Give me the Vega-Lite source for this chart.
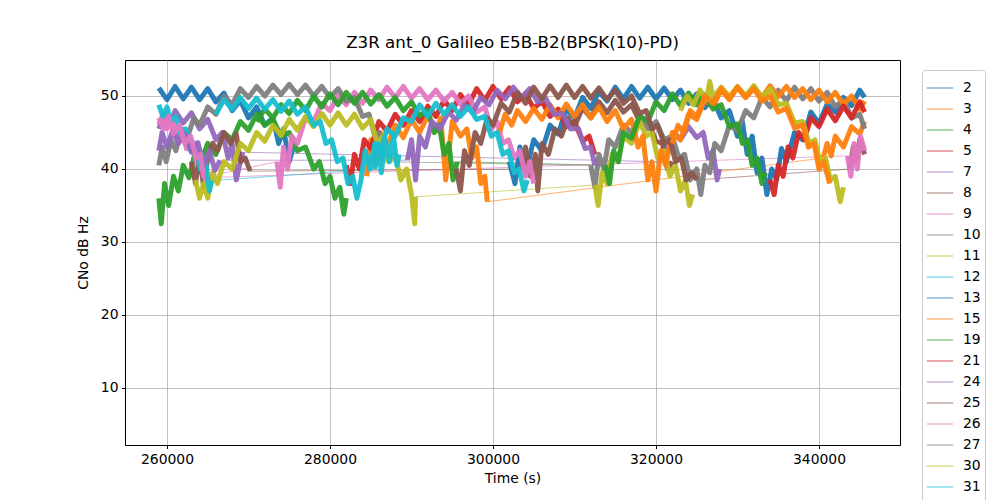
{
  "$schema": "https://vega.github.io/schema/vega-lite/v6.json",
  "width": 775,
  "height": 385,
  "autosize": {"type": "none"},
  "padding": {"left": 125, "top": 60, "right": 100, "bottom": 55},
  "background": "white",
  "title": {"text": "Z3R ant_0 Galileo E5B-B2(BPSK(10)-PD)", "font": "DejaVu Sans", "fontSize": 16.7, "fontWeight": "normal", "color": "black", "anchor": "middle", "frame": "group", "offset": 8},
  "config": {
    "view": {"stroke": "black", "strokeWidth": 1},
    "axis": {"labelFont": "DejaVu Sans", "labelFontSize": 13.9, "labelColor": "black", "titleFont": "DejaVu Sans", "titleFontSize": 13.9, "titleFontWeight": "normal", "titleColor": "black", "gridColor": "#b0b0b0", "gridWidth": 0.8, "domainColor": "black", "tickColor": "black", "tickSize": 3.5, "labelPadding": 3.5},
    "legend": {"orient": "none", "legendX": 797, "legendY": 10, "labelFont": "DejaVu Sans", "labelFontSize": 13.9, "labelColor": "black", "symbolType": "stroke", "symbolSize": 700, "symbolStrokeWidth": 1.2, "symbolOpacity": 0.65, "strokeColor": "#cccccc", "fillColor": "white", "cornerRadius": 3, "padding": 4, "rowPadding": 0, "labelOffset": 9}
  },
  "datasets": {
    "links": [
      {"s":"3","t":299300,"c":35.5,"t2":340500,"c2":41.5},
      {"s":"19","t":295600,"c":41.0,"t2":313800,"c2":40.5},
      {"s":"7","t":269300,"c":42.3,"t2":320500,"c2":41.0},
      {"s":"24","t":266500,"c":41.2,"t2":289500,"c2":41.2},
      {"s":"8","t":270200,"c":39.7,"t2":303500,"c2":40.0},
      {"s":"25","t":325000,"c":38.5,"t2":343800,"c2":40.0},
      {"s":"9","t":265000,"c":39.0,"t2":273500,"c2":41.0},
      {"s":"26","t":264500,"c":38.8,"t2":343500,"c2":41.8},
      {"s":"10","t":286500,"c":41.0,"t2":312000,"c2":40.5},
      {"s":"11","t":290500,"c":36.2,"t2":312500,"c2":37.8},
      {"s":"12","t":265500,"c":38.4,"t2":285500,"c2":40.0}
    ],
    "passes": [
      {"s":"2","p":1,"t":259000,"c":51.1},{"s":"2","p":1,"t":260000,"c":49.5},{"s":"2","p":1,"t":261000,"c":51.3},{"s":"2","p":1,"t":262000,"c":49.6},{"s":"2","p":1,"t":263000,"c":51.2},{"s":"2","p":1,"t":264000,"c":49.5},{"s":"2","p":1,"t":265000,"c":51.0},{"s":"2","p":1,"t":266000,"c":49.2},{"s":"2","p":1,"t":267000,"c":50.4},{"s":"2","p":1,"t":268000,"c":48.0},{"s":"2","p":1,"t":269000,"c":49.4},{"s":"2","p":1,"t":270000,"c":47.0},{"s":"2","p":1,"t":271000,"c":48.5},{"s":"2","p":1,"t":272000,"c":46.0},{"s":"2","p":1,"t":273000,"c":47.0},{"s":"2","p":1,"t":273700,"c":43.5},{"s":"2","p":1,"t":274300,"c":45.5},{"s":"2","p":1,"t":275000,"c":41.0},{"s":"2","p":1,"t":275500,"c":43.0},
      {"s":"2","p":2,"t":302000,"c":41.0},{"s":"2","p":2,"t":302700,"c":38.0},{"s":"2","p":2,"t":303300,"c":43.0},{"s":"2","p":2,"t":304000,"c":39.5},{"s":"2","p":2,"t":305000,"c":44.0},{"s":"2","p":2,"t":306000,"c":42.5},{"s":"2","p":2,"t":307000,"c":46.0},{"s":"2","p":2,"t":308000,"c":44.8},{"s":"2","p":2,"t":309000,"c":48.2},{"s":"2","p":2,"t":310000,"c":47.0},{"s":"2","p":2,"t":311000,"c":49.8},{"s":"2","p":2,"t":312000,"c":48.3},{"s":"2","p":2,"t":313000,"c":50.6},{"s":"2","p":2,"t":314000,"c":49.3},{"s":"2","p":2,"t":315000,"c":51.2},{"s":"2","p":2,"t":316000,"c":49.6},{"s":"2","p":2,"t":317000,"c":51.3},{"s":"2","p":2,"t":318000,"c":49.7},{"s":"2","p":2,"t":319000,"c":51.2},{"s":"2","p":2,"t":320000,"c":49.6},{"s":"2","p":2,"t":321000,"c":51.1},{"s":"2","p":2,"t":322000,"c":49.5},{"s":"2","p":2,"t":323000,"c":50.8},{"s":"2","p":2,"t":324000,"c":49.0},{"s":"2","p":2,"t":325000,"c":50.3},{"s":"2","p":2,"t":326000,"c":48.4},{"s":"2","p":2,"t":327000,"c":49.6},{"s":"2","p":2,"t":328000,"c":47.0},{"s":"2","p":2,"t":329000,"c":48.0},{"s":"2","p":2,"t":330000,"c":44.5},{"s":"2","p":2,"t":330600,"c":46.5},{"s":"2","p":2,"t":331200,"c":42.0},{"s":"2","p":2,"t":331800,"c":44.5},{"s":"2","p":2,"t":332400,"c":39.5},{"s":"2","p":2,"t":333000,"c":41.5},{"s":"2","p":2,"t":333600,"c":36.5},{"s":"2","p":2,"t":334200,"c":40.0},{"s":"2","p":2,"t":334800,"c":38.5},{"s":"2","p":2,"t":335400,"c":42.8},{"s":"2","p":2,"t":336000,"c":41.0},{"s":"2","p":2,"t":337000,"c":45.0},{"s":"2","p":2,"t":338000,"c":44.0},{"s":"2","p":2,"t":339000,"c":47.8},{"s":"2","p":2,"t":340000,"c":46.2},{"s":"2","p":2,"t":341000,"c":48.9},{"s":"2","p":2,"t":342000,"c":47.8},{"s":"2","p":2,"t":343000,"c":49.8},{"s":"2","p":2,"t":344000,"c":48.7},{"s":"2","p":2,"t":345000,"c":50.8},{"s":"2","p":2,"t":345600,"c":49.8},
      {"s":"3","p":1,"t":284500,"c":39.0},{"s":"3","p":1,"t":285000,"c":44.0},{"s":"3","p":1,"t":285600,"c":40.5},{"s":"3","p":1,"t":286200,"c":45.0},{"s":"3","p":1,"t":287000,"c":43.0},{"s":"3","p":1,"t":288000,"c":46.0},{"s":"3","p":1,"t":289000,"c":44.3},{"s":"3","p":1,"t":290000,"c":46.8},{"s":"3","p":1,"t":291000,"c":45.0},{"s":"3","p":1,"t":292000,"c":47.3},{"s":"3","p":1,"t":293000,"c":45.2},{"s":"3","p":1,"t":293600,"c":47.0},{"s":"3","p":1,"t":294200,"c":38.5},{"s":"3","p":1,"t":295000,"c":46.5},{"s":"3","p":1,"t":296000,"c":44.5},{"s":"3","p":1,"t":296800,"c":45.5},{"s":"3","p":1,"t":297400,"c":41.5},{"s":"3","p":1,"t":298000,"c":43.0},{"s":"3","p":1,"t":298500,"c":38.0},{"s":"3","p":1,"t":299000,"c":39.0},{"s":"3","p":1,"t":299300,"c":35.5},
      {"s":"3","p":2,"t":340500,"c":41.5},{"s":"3","p":2,"t":341000,"c":43.5},{"s":"3","p":2,"t":341500,"c":41.8},{"s":"3","p":2,"t":342000,"c":44.5},{"s":"3","p":2,"t":343000,"c":43.0},{"s":"3","p":2,"t":344000,"c":45.8},{"s":"3","p":2,"t":345000,"c":44.8},{"s":"3","p":2,"t":345600,"c":46.5},
      {"s":"4","p":1,"t":259000,"c":36.0},{"s":"4","p":1,"t":259300,"c":32.5},{"s":"4","p":1,"t":259700,"c":38.0},{"s":"4","p":1,"t":260200,"c":35.0},{"s":"4","p":1,"t":260800,"c":39.0},{"s":"4","p":1,"t":261400,"c":37.0},{"s":"4","p":1,"t":262000,"c":40.5},{"s":"4","p":1,"t":262700,"c":38.8},{"s":"4","p":1,"t":263400,"c":42.0},{"s":"4","p":1,"t":264000,"c":40.5},{"s":"4","p":1,"t":265000,"c":43.5},{"s":"4","p":1,"t":266000,"c":42.0},{"s":"4","p":1,"t":267000,"c":45.0},{"s":"4","p":1,"t":268000,"c":44.0},{"s":"4","p":1,"t":269000,"c":46.5},{"s":"4","p":1,"t":270000,"c":45.3},{"s":"4","p":1,"t":271000,"c":47.5},{"s":"4","p":1,"t":272000,"c":46.0},{"s":"4","p":1,"t":273000,"c":46.8},{"s":"4","p":1,"t":274000,"c":44.5},{"s":"4","p":1,"t":275000,"c":45.0},{"s":"4","p":1,"t":276000,"c":42.5},{"s":"4","p":1,"t":277000,"c":43.0},{"s":"4","p":1,"t":278000,"c":40.0},{"s":"4","p":1,"t":278700,"c":41.0},{"s":"4","p":1,"t":279400,"c":38.0},{"s":"4","p":1,"t":280000,"c":39.0},{"s":"4","p":1,"t":280600,"c":36.0},{"s":"4","p":1,"t":281200,"c":37.5},{"s":"4","p":1,"t":281700,"c":33.8},{"s":"4","p":1,"t":282000,"c":36.0},
      {"s":"5","p":1,"t":282000,"c":40.5},{"s":"5","p":1,"t":282500,"c":38.0},{"s":"5","p":1,"t":283000,"c":42.0},{"s":"5","p":1,"t":283600,"c":40.0},{"s":"5","p":1,"t":284200,"c":44.0},{"s":"5","p":1,"t":285000,"c":42.8},{"s":"5","p":1,"t":286000,"c":46.5},{"s":"5","p":1,"t":287000,"c":45.2},{"s":"5","p":1,"t":288000,"c":47.5},{"s":"5","p":1,"t":289000,"c":46.0},{"s":"5","p":1,"t":290000,"c":48.0},{"s":"5","p":1,"t":291000,"c":46.5},{"s":"5","p":1,"t":292000,"c":48.6},{"s":"5","p":1,"t":293000,"c":47.2},{"s":"5","p":1,"t":294000,"c":49.4},{"s":"5","p":1,"t":295000,"c":48.0},{"s":"5","p":1,"t":296000,"c":50.2},{"s":"5","p":1,"t":297000,"c":48.8},{"s":"5","p":1,"t":298000,"c":51.0},{"s":"5","p":1,"t":299000,"c":49.4},{"s":"5","p":1,"t":300000,"c":51.3},{"s":"5","p":1,"t":301000,"c":49.6},{"s":"5","p":1,"t":302000,"c":51.1},{"s":"5","p":1,"t":303000,"c":49.2},{"s":"5","p":1,"t":304000,"c":50.3},{"s":"5","p":1,"t":305000,"c":48.3},{"s":"5","p":1,"t":306000,"c":49.3},{"s":"5","p":1,"t":307000,"c":47.2},{"s":"5","p":1,"t":308000,"c":48.2},{"s":"5","p":1,"t":309000,"c":45.8},{"s":"5","p":1,"t":310000,"c":46.5},{"s":"5","p":1,"t":311000,"c":43.8},{"s":"5","p":1,"t":311800,"c":44.5},{"s":"5","p":1,"t":312500,"c":42.0},
      {"s":"7","p":1,"t":259000,"c":45.5},{"s":"7","p":1,"t":259700,"c":47.5},{"s":"7","p":1,"t":260400,"c":46.0},{"s":"7","p":1,"t":261000,"c":48.0},{"s":"7","p":1,"t":262000,"c":46.3},{"s":"7","p":1,"t":263000,"c":47.7},{"s":"7","p":1,"t":264000,"c":45.5},{"s":"7","p":1,"t":265000,"c":46.8},{"s":"7","p":1,"t":266000,"c":44.0},{"s":"7","p":1,"t":266800,"c":45.0},{"s":"7","p":1,"t":267500,"c":41.5},{"s":"7","p":1,"t":268000,"c":43.5},{"s":"7","p":1,"t":268500,"c":38.5},{"s":"7","p":1,"t":269000,"c":41.0},{"s":"7","p":1,"t":269300,"c":42.3},
      {"s":"7","p":2,"t":320500,"c":41.0},{"s":"7","p":2,"t":321000,"c":43.5},{"s":"7","p":2,"t":321600,"c":42.5},{"s":"7","p":2,"t":322200,"c":45.0},{"s":"7","p":2,"t":323000,"c":44.0},{"s":"7","p":2,"t":324000,"c":45.8},{"s":"7","p":2,"t":325000,"c":44.3},{"s":"7","p":2,"t":325800,"c":45.0},{"s":"7","p":2,"t":326400,"c":41.5},{"s":"7","p":2,"t":327000,"c":42.5},{"s":"7","p":2,"t":327500,"c":38.5},{"s":"7","p":2,"t":327800,"c":40.0},
      {"s":"8","p":1,"t":263000,"c":41.0},{"s":"8","p":1,"t":263500,"c":38.0},{"s":"8","p":1,"t":264000,"c":42.0},{"s":"8","p":1,"t":264500,"c":37.5},{"s":"8","p":1,"t":265000,"c":41.5},{"s":"8","p":1,"t":265600,"c":43.5},{"s":"8","p":1,"t":266200,"c":42.5},{"s":"8","p":1,"t":267000,"c":45.0},{"s":"8","p":1,"t":267800,"c":43.5},{"s":"8","p":1,"t":268500,"c":44.8},{"s":"8","p":1,"t":269000,"c":41.0},{"s":"8","p":1,"t":269600,"c":41.5},{"s":"8","p":1,"t":270200,"c":39.7},
      {"s":"8","p":2,"t":303500,"c":40.0},{"s":"8","p":2,"t":304000,"c":43.0},{"s":"8","p":2,"t":304600,"c":39.0},{"s":"8","p":2,"t":305200,"c":42.0},{"s":"8","p":2,"t":305500,"c":37.0},{"s":"8","p":2,"t":306000,"c":43.5},{"s":"8","p":2,"t":306800,"c":42.0},{"s":"8","p":2,"t":307600,"c":45.5},{"s":"8","p":2,"t":308400,"c":44.5},{"s":"8","p":2,"t":309200,"c":47.0},{"s":"8","p":2,"t":310000,"c":45.8},{"s":"8","p":2,"t":311000,"c":48.4},{"s":"8","p":2,"t":312000,"c":47.0},{"s":"8","p":2,"t":313000,"c":49.2},{"s":"8","p":2,"t":314000,"c":47.7},{"s":"8","p":2,"t":315000,"c":49.4},{"s":"8","p":2,"t":316000,"c":47.8},{"s":"8","p":2,"t":317000,"c":48.8},{"s":"8","p":2,"t":318000,"c":46.5},{"s":"8","p":2,"t":319000,"c":46.8},{"s":"8","p":2,"t":320000,"c":43.8},{"s":"8","p":2,"t":320800,"c":43.5},{"s":"8","p":2,"t":321400,"c":40.0},{"s":"8","p":2,"t":322000,"c":41.0},
      {"s":"9","p":1,"t":259000,"c":46.0},{"s":"9","p":1,"t":259500,"c":47.5},{"s":"9","p":1,"t":260000,"c":45.5},{"s":"9","p":1,"t":260600,"c":46.8},{"s":"9","p":1,"t":261200,"c":44.3},{"s":"9","p":1,"t":261800,"c":45.5},{"s":"9","p":1,"t":262400,"c":42.8},{"s":"9","p":1,"t":263000,"c":44.0},{"s":"9","p":1,"t":263600,"c":41.0},{"s":"9","p":1,"t":264200,"c":42.0},{"s":"9","p":1,"t":264700,"c":38.5},{"s":"9","p":1,"t":265000,"c":39.0},
      {"s":"9","p":2,"t":273500,"c":41.0},{"s":"9","p":2,"t":273900,"c":37.5},{"s":"9","p":2,"t":274300,"c":43.0},{"s":"9","p":2,"t":274800,"c":40.0},{"s":"9","p":2,"t":275300,"c":44.5},{"s":"9","p":2,"t":276000,"c":43.5},{"s":"9","p":2,"t":277000,"c":47.0},{"s":"9","p":2,"t":278000,"c":46.5},{"s":"9","p":2,"t":279000,"c":49.0},{"s":"9","p":2,"t":280000,"c":48.0},{"s":"9","p":2,"t":281000,"c":50.0},{"s":"9","p":2,"t":282000,"c":48.8},{"s":"9","p":2,"t":283000,"c":50.5},{"s":"9","p":2,"t":284000,"c":49.0},{"s":"9","p":2,"t":285000,"c":50.8},{"s":"9","p":2,"t":286000,"c":49.5},{"s":"9","p":2,"t":287000,"c":51.2},{"s":"9","p":2,"t":288000,"c":49.8},{"s":"9","p":2,"t":289000,"c":51.3},{"s":"9","p":2,"t":290000,"c":49.7},{"s":"9","p":2,"t":291000,"c":51.0},{"s":"9","p":2,"t":292000,"c":49.5},{"s":"9","p":2,"t":293000,"c":50.8},{"s":"9","p":2,"t":294000,"c":49.3},{"s":"9","p":2,"t":295000,"c":50.5},{"s":"9","p":2,"t":296000,"c":48.9},{"s":"9","p":2,"t":297000,"c":50.0},{"s":"9","p":2,"t":298000,"c":47.8},{"s":"9","p":2,"t":299000,"c":48.5},{"s":"9","p":2,"t":299800,"c":45.5},{"s":"9","p":2,"t":300500,"c":46.5},{"s":"9","p":2,"t":301200,"c":43.5},{"s":"9","p":2,"t":301900,"c":44.0},{"s":"9","p":2,"t":302600,"c":41.5},{"s":"9","p":2,"t":303300,"c":42.5},{"s":"9","p":2,"t":304000,"c":39.0},{"s":"9","p":2,"t":304500,"c":41.0},{"s":"9","p":2,"t":305000,"c":38.0},
      {"s":"10","p":1,"t":259000,"c":40.5},{"s":"10","p":1,"t":259400,"c":43.0},{"s":"10","p":1,"t":259900,"c":41.0},{"s":"10","p":1,"t":260500,"c":44.0},{"s":"10","p":1,"t":261100,"c":42.5},{"s":"10","p":1,"t":261800,"c":45.5},{"s":"10","p":1,"t":262500,"c":44.3},{"s":"10","p":1,"t":263300,"c":47.0},{"s":"10","p":1,"t":264000,"c":46.0},{"s":"10","p":1,"t":265000,"c":48.5},{"s":"10","p":1,"t":266000,"c":47.5},{"s":"10","p":1,"t":267000,"c":50.0},{"s":"10","p":1,"t":268000,"c":48.8},{"s":"10","p":1,"t":269000,"c":51.0},{"s":"10","p":1,"t":270000,"c":49.8},{"s":"10","p":1,"t":271000,"c":51.3},{"s":"10","p":1,"t":272000,"c":50.0},{"s":"10","p":1,"t":273000,"c":51.5},{"s":"10","p":1,"t":274000,"c":50.2},{"s":"10","p":1,"t":275000,"c":51.6},{"s":"10","p":1,"t":276000,"c":50.2},{"s":"10","p":1,"t":277000,"c":51.5},{"s":"10","p":1,"t":278000,"c":50.0},{"s":"10","p":1,"t":279000,"c":51.3},{"s":"10","p":1,"t":280000,"c":49.8},{"s":"10","p":1,"t":281000,"c":51.0},{"s":"10","p":1,"t":282000,"c":49.3},{"s":"10","p":1,"t":283000,"c":49.8},{"s":"10","p":1,"t":284000,"c":47.2},{"s":"10","p":1,"t":284800,"c":47.5},{"s":"10","p":1,"t":285500,"c":44.5},{"s":"10","p":1,"t":286000,"c":45.0},{"s":"10","p":1,"t":286500,"c":41.0},
      {"s":"10","p":2,"t":312000,"c":40.5},{"s":"10","p":2,"t":312500,"c":37.5},{"s":"10","p":2,"t":313000,"c":42.0},{"s":"10","p":2,"t":313600,"c":40.0},{"s":"10","p":2,"t":314200,"c":44.0},{"s":"10","p":2,"t":315000,"c":43.0},{"s":"10","p":2,"t":316000,"c":46.0},{"s":"10","p":2,"t":317000,"c":45.0},{"s":"10","p":2,"t":318000,"c":47.0},{"s":"10","p":2,"t":319000,"c":45.5},{"s":"10","p":2,"t":320000,"c":46.5},{"s":"10","p":2,"t":321000,"c":44.0},{"s":"10","p":2,"t":322000,"c":44.5},{"s":"10","p":2,"t":322800,"c":41.5},{"s":"10","p":2,"t":323500,"c":42.0},{"s":"10","p":2,"t":324200,"c":38.5},{"s":"10","p":2,"t":325000,"c":40.0},{"s":"10","p":2,"t":325500,"c":36.5},{"s":"10","p":2,"t":326000,"c":40.5},{"s":"10","p":2,"t":326600,"c":39.5},{"s":"10","p":2,"t":327200,"c":43.5},{"s":"10","p":2,"t":328000,"c":42.5},{"s":"10","p":2,"t":329000,"c":46.0},{"s":"10","p":2,"t":330000,"c":45.2},{"s":"10","p":2,"t":331000,"c":48.0},{"s":"10","p":2,"t":332000,"c":47.0},{"s":"10","p":2,"t":333000,"c":49.8},{"s":"10","p":2,"t":334000,"c":48.5},{"s":"10","p":2,"t":335000,"c":50.8},{"s":"10","p":2,"t":336000,"c":49.3},{"s":"10","p":2,"t":337000,"c":51.2},{"s":"10","p":2,"t":338000,"c":49.6},{"s":"10","p":2,"t":339000,"c":51.0},{"s":"10","p":2,"t":340000,"c":49.3},{"s":"10","p":2,"t":341000,"c":50.5},{"s":"10","p":2,"t":342000,"c":48.5},{"s":"10","p":2,"t":343000,"c":49.5},{"s":"10","p":2,"t":344000,"c":47.0},{"s":"10","p":2,"t":345000,"c":47.5},{"s":"10","p":2,"t":345600,"c":45.5},
      {"s":"11","p":1,"t":263500,"c":38.5},{"s":"11","p":1,"t":264000,"c":36.0},{"s":"11","p":1,"t":264500,"c":38.0},{"s":"11","p":1,"t":265000,"c":36.0},{"s":"11","p":1,"t":265600,"c":39.5},{"s":"11","p":1,"t":266200,"c":38.0},{"s":"11","p":1,"t":267000,"c":41.0},{"s":"11","p":1,"t":268000,"c":40.0},{"s":"11","p":1,"t":269000,"c":43.5},{"s":"11","p":1,"t":270000,"c":42.5},{"s":"11","p":1,"t":271000,"c":45.0},{"s":"11","p":1,"t":272000,"c":43.8},{"s":"11","p":1,"t":273000,"c":46.0},{"s":"11","p":1,"t":274000,"c":44.6},{"s":"11","p":1,"t":275000,"c":46.8},{"s":"11","p":1,"t":276000,"c":45.3},{"s":"11","p":1,"t":277000,"c":47.2},{"s":"11","p":1,"t":278000,"c":45.8},{"s":"11","p":1,"t":279000,"c":47.6},{"s":"11","p":1,"t":280000,"c":46.0},{"s":"11","p":1,"t":281000,"c":47.7},{"s":"11","p":1,"t":282000,"c":46.0},{"s":"11","p":1,"t":283000,"c":47.5},{"s":"11","p":1,"t":284000,"c":45.6},{"s":"11","p":1,"t":285000,"c":46.8},{"s":"11","p":1,"t":285800,"c":43.5},{"s":"11","p":1,"t":286500,"c":44.5},{"s":"11","p":1,"t":287200,"c":41.0},{"s":"11","p":1,"t":288000,"c":42.0},{"s":"11","p":1,"t":288700,"c":38.5},{"s":"11","p":1,"t":289400,"c":40.0},{"s":"11","p":1,"t":290000,"c":36.5},{"s":"11","p":1,"t":290400,"c":32.5},{"s":"11","p":1,"t":290500,"c":36.2},
      {"s":"11","p":2,"t":312500,"c":37.8},{"s":"11","p":2,"t":312900,"c":35.0},{"s":"11","p":2,"t":313400,"c":39.5},{"s":"11","p":2,"t":314000,"c":38.0},{"s":"11","p":2,"t":314600,"c":42.0},{"s":"11","p":2,"t":315300,"c":41.0},{"s":"11","p":2,"t":316000,"c":44.5},{"s":"11","p":2,"t":317000,"c":43.5},{"s":"11","p":2,"t":318000,"c":46.5},{"s":"11","p":2,"t":318800,"c":44.5},{"s":"11","p":2,"t":319500,"c":45.0},{"s":"11","p":2,"t":320200,"c":41.5},{"s":"11","p":2,"t":321000,"c":42.5},{"s":"11","p":2,"t":321700,"c":39.0},{"s":"11","p":2,"t":322400,"c":40.5},{"s":"11","p":2,"t":323000,"c":37.0},{"s":"11","p":2,"t":323600,"c":38.5},{"s":"11","p":2,"t":324100,"c":35.0},{"s":"11","p":2,"t":324500,"c":36.5},
      {"s":"12","p":1,"t":259000,"c":48.8},{"s":"12","p":1,"t":259500,"c":47.2},{"s":"12","p":1,"t":260000,"c":48.5},{"s":"12","p":1,"t":260500,"c":46.5},{"s":"12","p":1,"t":261100,"c":47.2},{"s":"12","p":1,"t":261700,"c":44.8},{"s":"12","p":1,"t":262300,"c":45.5},{"s":"12","p":1,"t":262900,"c":42.5},{"s":"12","p":1,"t":263500,"c":43.5},{"s":"12","p":1,"t":264100,"c":40.0},{"s":"12","p":1,"t":264700,"c":41.5},{"s":"12","p":1,"t":265200,"c":37.0},{"s":"12","p":1,"t":265500,"c":38.4},
      {"s":"12","p":2,"t":285500,"c":40.0},{"s":"12","p":2,"t":285900,"c":43.5},{"s":"12","p":2,"t":286300,"c":39.5},{"s":"12","p":2,"t":286800,"c":44.0},{"s":"12","p":2,"t":287300,"c":41.0},{"s":"12","p":2,"t":287800,"c":44.5},{"s":"12","p":2,"t":288200,"c":40.5},{"s":"12","p":2,"t":288500,"c":42.0},
      {"s":"15","p":1,"t":300800,"c":45.0},{"s":"15","p":1,"t":301500,"c":47.5},{"s":"15","p":1,"t":302300,"c":46.0},{"s":"15","p":1,"t":303000,"c":48.0},{"s":"15","p":1,"t":304000,"c":46.5},{"s":"15","p":1,"t":305000,"c":48.3},{"s":"15","p":1,"t":306000,"c":46.8},{"s":"15","p":1,"t":307000,"c":48.8},{"s":"15","p":1,"t":308000,"c":47.0},{"s":"15","p":1,"t":309000,"c":48.9},{"s":"15","p":1,"t":310000,"c":47.2},{"s":"15","p":1,"t":311000,"c":48.8},{"s":"15","p":1,"t":312000,"c":47.0},{"s":"15","p":1,"t":313000,"c":48.5},{"s":"15","p":1,"t":314000,"c":46.5},{"s":"15","p":1,"t":315000,"c":48.0},{"s":"15","p":1,"t":316000,"c":45.5},{"s":"15","p":1,"t":317000,"c":46.8},{"s":"15","p":1,"t":317800,"c":43.0},{"s":"15","p":1,"t":318400,"c":44.5},{"s":"15","p":1,"t":319000,"c":38.5},{"s":"15","p":1,"t":319500,"c":41.0},{"s":"15","p":1,"t":320000,"c":37.0},{"s":"15","p":1,"t":320600,"c":42.5},{"s":"15","p":1,"t":321200,"c":40.5},{"s":"15","p":1,"t":322000,"c":45.0},{"s":"15","p":1,"t":323000,"c":44.0},{"s":"15","p":1,"t":324000,"c":47.5},{"s":"15","p":1,"t":325000,"c":46.8},{"s":"15","p":1,"t":326000,"c":49.5},{"s":"15","p":1,"t":327000,"c":48.5},{"s":"15","p":1,"t":328000,"c":50.9},{"s":"15","p":1,"t":329000,"c":49.5},{"s":"15","p":1,"t":330000,"c":51.2},{"s":"15","p":1,"t":331000,"c":49.8},{"s":"15","p":1,"t":332000,"c":51.3},{"s":"15","p":1,"t":333000,"c":49.8},{"s":"15","p":1,"t":334000,"c":51.4},{"s":"15","p":1,"t":335000,"c":49.9},{"s":"15","p":1,"t":336000,"c":51.3},{"s":"15","p":1,"t":337000,"c":49.8},{"s":"15","p":1,"t":338000,"c":51.0},{"s":"15","p":1,"t":339000,"c":49.5},{"s":"15","p":1,"t":340000,"c":50.8},{"s":"15","p":1,"t":341000,"c":49.2},{"s":"15","p":1,"t":342000,"c":50.5},{"s":"15","p":1,"t":343000,"c":48.8},{"s":"15","p":1,"t":344000,"c":50.0},{"s":"15","p":1,"t":345000,"c":48.2},{"s":"15","p":1,"t":345600,"c":49.3},
      {"s":"19","p":1,"t":271000,"c":46.5},{"s":"19","p":1,"t":272000,"c":48.2},{"s":"19","p":1,"t":273000,"c":47.0},{"s":"19","p":1,"t":274000,"c":48.8},{"s":"19","p":1,"t":275000,"c":47.6},{"s":"19","p":1,"t":276000,"c":49.4},{"s":"19","p":1,"t":277000,"c":48.0},{"s":"19","p":1,"t":278000,"c":50.0},{"s":"19","p":1,"t":279000,"c":48.5},{"s":"19","p":1,"t":280000,"c":50.3},{"s":"19","p":1,"t":281000,"c":48.8},{"s":"19","p":1,"t":282000,"c":50.5},{"s":"19","p":1,"t":283000,"c":49.0},{"s":"19","p":1,"t":284000,"c":50.5},{"s":"19","p":1,"t":285000,"c":48.9},{"s":"19","p":1,"t":286000,"c":50.2},{"s":"19","p":1,"t":287000,"c":48.6},{"s":"19","p":1,"t":288000,"c":49.8},{"s":"19","p":1,"t":289000,"c":48.0},{"s":"19","p":1,"t":290000,"c":49.2},{"s":"19","p":1,"t":291000,"c":47.3},{"s":"19","p":1,"t":292000,"c":48.0},{"s":"19","p":1,"t":292800,"c":45.0},{"s":"19","p":1,"t":293400,"c":46.0},{"s":"19","p":1,"t":294000,"c":42.0},{"s":"19","p":1,"t":294600,"c":43.5},{"s":"19","p":1,"t":295100,"c":38.5},{"s":"19","p":1,"t":295600,"c":41.0},
      {"s":"19","p":2,"t":313800,"c":40.5},{"s":"19","p":2,"t":314300,"c":38.0},{"s":"19","p":2,"t":314800,"c":42.5},{"s":"19","p":2,"t":315400,"c":41.0},{"s":"19","p":2,"t":316000,"c":45.0},{"s":"19","p":2,"t":317000,"c":44.2},{"s":"19","p":2,"t":318000,"c":47.3},{"s":"19","p":2,"t":319000,"c":46.5},{"s":"19","p":2,"t":320000,"c":49.2},{"s":"19","p":2,"t":321000,"c":48.0},{"s":"19","p":2,"t":322000,"c":50.3},{"s":"19","p":2,"t":323000,"c":48.7},{"s":"19","p":2,"t":324000,"c":50.4},{"s":"19","p":2,"t":325000,"c":48.8},{"s":"19","p":2,"t":326000,"c":50.2},{"s":"19","p":2,"t":327000,"c":48.2},{"s":"19","p":2,"t":328000,"c":48.8},{"s":"19","p":2,"t":329000,"c":45.8},{"s":"19","p":2,"t":330000,"c":46.2},{"s":"19","p":2,"t":330600,"c":43.5},{"s":"19","p":2,"t":331200,"c":44.0},{"s":"19","p":2,"t":331800,"c":40.5},{"s":"19","p":2,"t":332400,"c":41.5},{"s":"19","p":2,"t":333000,"c":38.0},{"s":"19","p":2,"t":333400,"c":39.5},
      {"s":"21","p":1,"t":334000,"c":38.5},{"s":"21","p":1,"t":334500,"c":36.5},{"s":"21","p":1,"t":335000,"c":40.5},{"s":"21","p":1,"t":335600,"c":39.0},{"s":"21","p":1,"t":336200,"c":43.0},{"s":"21","p":1,"t":336800,"c":41.5},{"s":"21","p":1,"t":337500,"c":45.0},{"s":"21","p":1,"t":338200,"c":44.0},{"s":"21","p":1,"t":339000,"c":47.0},{"s":"21","p":1,"t":340000,"c":45.8},{"s":"21","p":1,"t":341000,"c":48.2},{"s":"21","p":1,"t":342000,"c":46.6},{"s":"21","p":1,"t":343000,"c":48.6},{"s":"21","p":1,"t":344000,"c":47.0},{"s":"21","p":1,"t":345000,"c":49.2},{"s":"21","p":1,"t":345600,"c":47.8},
      {"s":"24","p":1,"t":259000,"c":42.5},{"s":"24","p":1,"t":259400,"c":45.0},{"s":"24","p":1,"t":260000,"c":43.0},{"s":"24","p":1,"t":260700,"c":45.3},{"s":"24","p":1,"t":261400,"c":43.5},{"s":"24","p":1,"t":262200,"c":44.8},{"s":"24","p":1,"t":263000,"c":42.3},{"s":"24","p":1,"t":263800,"c":43.6},{"s":"24","p":1,"t":264500,"c":40.5},{"s":"24","p":1,"t":265200,"c":42.5},{"s":"24","p":1,"t":265900,"c":39.8},{"s":"24","p":1,"t":266500,"c":41.2},
      {"s":"24","p":2,"t":289500,"c":41.2},{"s":"24","p":2,"t":290000,"c":44.0},{"s":"24","p":2,"t":290500,"c":38.5},{"s":"24","p":2,"t":291000,"c":44.5},{"s":"24","p":2,"t":291700,"c":43.0},{"s":"24","p":2,"t":292500,"c":46.5},{"s":"24","p":2,"t":293500,"c":45.5},{"s":"24","p":2,"t":294500,"c":47.8},{"s":"24","p":2,"t":295500,"c":46.7},{"s":"24","p":2,"t":296500,"c":48.8},{"s":"24","p":2,"t":297500,"c":47.7},{"s":"24","p":2,"t":298500,"c":49.8},{"s":"24","p":2,"t":299500,"c":48.8},{"s":"24","p":2,"t":300500,"c":50.8},{"s":"24","p":2,"t":301500,"c":49.6},{"s":"24","p":2,"t":302500,"c":51.2},{"s":"24","p":2,"t":303500,"c":49.8},{"s":"24","p":2,"t":304500,"c":51.0},{"s":"24","p":2,"t":305500,"c":49.2},{"s":"24","p":2,"t":306500,"c":49.6},{"s":"24","p":2,"t":307500,"c":47.5},{"s":"24","p":2,"t":308500,"c":47.6},{"s":"24","p":2,"t":309500,"c":45.5},{"s":"24","p":2,"t":310500,"c":45.5},{"s":"24","p":2,"t":311300,"c":42.8},{"s":"24","p":2,"t":312000,"c":43.0},{"s":"24","p":2,"t":312500,"c":40.5},
      {"s":"25","p":1,"t":295500,"c":40.0},{"s":"25","p":1,"t":296000,"c":37.0},{"s":"25","p":1,"t":296500,"c":42.5},{"s":"25","p":1,"t":297100,"c":40.5},{"s":"25","p":1,"t":297800,"c":45.0},{"s":"25","p":1,"t":298500,"c":43.5},{"s":"25","p":1,"t":299300,"c":47.0},{"s":"25","p":1,"t":300000,"c":46.0},{"s":"25","p":1,"t":301000,"c":49.0},{"s":"25","p":1,"t":302000,"c":47.8},{"s":"25","p":1,"t":303000,"c":50.5},{"s":"25","p":1,"t":304000,"c":49.0},{"s":"25","p":1,"t":305000,"c":51.2},{"s":"25","p":1,"t":306000,"c":49.6},{"s":"25","p":1,"t":307000,"c":51.4},{"s":"25","p":1,"t":308000,"c":49.8},{"s":"25","p":1,"t":309000,"c":51.5},{"s":"25","p":1,"t":310000,"c":49.8},{"s":"25","p":1,"t":311000,"c":51.3},{"s":"25","p":1,"t":312000,"c":49.7},{"s":"25","p":1,"t":313000,"c":51.1},{"s":"25","p":1,"t":314000,"c":49.5},{"s":"25","p":1,"t":315000,"c":50.8},{"s":"25","p":1,"t":316000,"c":49.0},{"s":"25","p":1,"t":317000,"c":50.0},{"s":"25","p":1,"t":318000,"c":47.6},{"s":"25","p":1,"t":318800,"c":48.0},{"s":"25","p":1,"t":319500,"c":45.5},{"s":"25","p":1,"t":320200,"c":46.0},{"s":"25","p":1,"t":321000,"c":43.5},{"s":"25","p":1,"t":321700,"c":44.0},{"s":"25","p":1,"t":322400,"c":41.0},{"s":"25","p":1,"t":323100,"c":41.5},{"s":"25","p":1,"t":323700,"c":38.5},{"s":"25","p":1,"t":324400,"c":39.5},{"s":"25","p":1,"t":325000,"c":38.5},
      {"s":"25","p":2,"t":343800,"c":40.0},{"s":"25","p":2,"t":344200,"c":43.0},{"s":"25","p":2,"t":344600,"c":41.2},{"s":"25","p":2,"t":345000,"c":44.0},{"s":"25","p":2,"t":345600,"c":42.0},
      {"s":"26","p":1,"t":259000,"c":47.0},{"s":"26","p":1,"t":259600,"c":45.5},{"s":"26","p":1,"t":260200,"c":47.2},{"s":"26","p":1,"t":260800,"c":44.8},{"s":"26","p":1,"t":261500,"c":46.0},{"s":"26","p":1,"t":262200,"c":43.5},{"s":"26","p":1,"t":262900,"c":44.5},{"s":"26","p":1,"t":263600,"c":41.5},{"s":"26","p":1,"t":264100,"c":42.0},{"s":"26","p":1,"t":264500,"c":38.8},
      {"s":"26","p":2,"t":343500,"c":41.8},{"s":"26","p":2,"t":343900,"c":39.0},{"s":"26","p":2,"t":344300,"c":43.5},{"s":"26","p":2,"t":344700,"c":40.0},{"s":"26","p":2,"t":345100,"c":44.5},{"s":"26","p":2,"t":345600,"c":42.5},
      {"s":"30","p":1,"t":323000,"c":48.0},{"s":"30","p":1,"t":323800,"c":50.0},{"s":"30","p":1,"t":324600,"c":48.8},{"s":"30","p":1,"t":325400,"c":50.8},{"s":"30","p":1,"t":326200,"c":49.5},{"s":"30","p":1,"t":326600,"c":52.0},{"s":"30","p":1,"t":327000,"c":49.8},{"s":"30","p":1,"t":328000,"c":51.2},{"s":"30","p":1,"t":329000,"c":49.9},{"s":"30","p":1,"t":330000,"c":51.3},{"s":"30","p":1,"t":331000,"c":50.0},{"s":"30","p":1,"t":332000,"c":51.4},{"s":"30","p":1,"t":333000,"c":49.8},{"s":"30","p":1,"t":334000,"c":51.0},{"s":"30","p":1,"t":335000,"c":48.8},{"s":"30","p":1,"t":336000,"c":49.0},{"s":"30","p":1,"t":337000,"c":46.3},{"s":"30","p":1,"t":338000,"c":46.5},{"s":"30","p":1,"t":338800,"c":43.5},{"s":"30","p":1,"t":339500,"c":44.0},{"s":"30","p":1,"t":340200,"c":40.5},{"s":"30","p":1,"t":340800,"c":41.5},{"s":"30","p":1,"t":341400,"c":38.5},{"s":"30","p":1,"t":342000,"c":39.0},{"s":"30","p":1,"t":342600,"c":35.5},{"s":"30","p":1,"t":343000,"c":37.5},
      {"s":"31","p":1,"t":266000,"c":47.5},{"s":"31","p":1,"t":267000,"c":49.5},{"s":"31","p":1,"t":268000,"c":48.2},{"s":"31","p":1,"t":269000,"c":49.8},{"s":"31","p":1,"t":270000,"c":48.3},{"s":"31","p":1,"t":271000,"c":49.7},{"s":"31","p":1,"t":272000,"c":48.2},{"s":"31","p":1,"t":273000,"c":49.5},{"s":"31","p":1,"t":274000,"c":47.9},{"s":"31","p":1,"t":275000,"c":49.3},{"s":"31","p":1,"t":276000,"c":47.5},{"s":"31","p":1,"t":277000,"c":48.5},{"s":"31","p":1,"t":278000,"c":46.0},{"s":"31","p":1,"t":278800,"c":46.5},{"s":"31","p":1,"t":279500,"c":43.5},{"s":"31","p":1,"t":280200,"c":44.0},{"s":"31","p":1,"t":280900,"c":41.0},{"s":"31","p":1,"t":281600,"c":41.5},{"s":"31","p":1,"t":282200,"c":38.0},{"s":"31","p":1,"t":282800,"c":39.0},{"s":"31","p":1,"t":283300,"c":36.0},{"s":"31","p":1,"t":283800,"c":38.5},{"s":"31","p":1,"t":284300,"c":42.5},{"s":"31","p":1,"t":284900,"c":40.0},{"s":"31","p":1,"t":285500,"c":43.5},{"s":"31","p":1,"t":286200,"c":42.5},{"s":"31","p":1,"t":287000,"c":45.5},{"s":"31","p":1,"t":288000,"c":44.5},{"s":"31","p":1,"t":289000,"c":47.0},{"s":"31","p":1,"t":290000,"c":46.5},{"s":"31","p":1,"t":291000,"c":48.8},{"s":"31","p":1,"t":292000,"c":47.2},{"s":"31","p":1,"t":293000,"c":49.0},{"s":"31","p":1,"t":294000,"c":47.5},{"s":"31","p":1,"t":295000,"c":48.8},{"s":"31","p":1,"t":296000,"c":47.2},{"s":"31","p":1,"t":297000,"c":48.5},{"s":"31","p":1,"t":298000,"c":46.8},{"s":"31","p":1,"t":299000,"c":47.2},{"s":"31","p":1,"t":299800,"c":44.5},{"s":"31","p":1,"t":300500,"c":45.0},{"s":"31","p":1,"t":301200,"c":42.0},{"s":"31","p":1,"t":301900,"c":42.5},{"s":"31","p":1,"t":302600,"c":39.5},{"s":"31","p":1,"t":303200,"c":40.0},{"s":"31","p":1,"t":303800,"c":37.0},{"s":"31","p":1,"t":304200,"c":38.5},
      {"s":"34","p":1,"t":322000,"c":43.5},{"s":"34","p":1,"t":322700,"c":46.0},{"s":"34","p":1,"t":323400,"c":45.0},{"s":"34","p":1,"t":324200,"c":48.0},{"s":"34","p":1,"t":325000,"c":47.2},{"s":"34","p":1,"t":326000,"c":50.0},{"s":"34","p":1,"t":327000,"c":49.0},{"s":"34","p":1,"t":328000,"c":51.0},{"s":"34","p":1,"t":329000,"c":49.6},{"s":"34","p":1,"t":330000,"c":51.2},{"s":"34","p":1,"t":331000,"c":49.8},{"s":"34","p":1,"t":332000,"c":51.0},{"s":"34","p":1,"t":333000,"c":49.3},{"s":"34","p":1,"t":334000,"c":50.0},{"s":"34","p":1,"t":335000,"c":47.8},{"s":"34","p":1,"t":336000,"c":48.3},{"s":"34","p":1,"t":337000,"c":45.6},{"s":"34","p":1,"t":338000,"c":46.0},{"s":"34","p":1,"t":338700,"c":43.0},{"s":"34","p":1,"t":339400,"c":43.5},{"s":"34","p":1,"t":340000,"c":40.0},{"s":"34","p":1,"t":340600,"c":41.0},{"s":"34","p":1,"t":341300,"c":38.0}
    ]
  },
  "encoding": {
    "x": {"field": "t", "type": "quantitative", "title": "Time (s)", "scale": {"domain": [254850, 349940], "nice": false, "zero": false}, "axis": {"values": [260000, 280000, 300000, 320000, 340000], "format": "d", "titlePadding": 6}},
    "y": {"field": "c", "type": "quantitative", "title": "CNo dB Hz", "scale": {"domain": [2.19, 54.93], "nice": false, "zero": false}, "axis": {"values": [10, 20, 30, 40, 50], "titlePadding": 10}},
    "color": {"field": "s", "type": "nominal", "title": null, "scale": {"domain": ["2","3","4","5","7","8","9","10","11","12","13","15","19","21","24","25","26","27","30","31","33","34","36"], "range": ["#1f77b4","#ff7f0e","#2ca02c","#d62728","#9467bd","#8c564b","#e377c2","#7f7f7f","#bcbd22","#17becf","#1f77b4","#ff7f0e","#2ca02c","#d62728","#9467bd","#8c564b","#e377c2","#7f7f7f","#bcbd22","#17becf","#1f77b4","#ff7f0e","#2ca02c"]}}
  },
  "layer": [
    {
      "data": {"name": "links"},
      "mark": {"type": "rule", "strokeWidth": 1, "opacity": 0.6, "clip": true},
      "encoding": {"x2": {"field": "t2"}, "y2": {"field": "c2"}}
    },
    {
      "data": {"name": "passes"},
      "mark": {"type": "line", "strokeWidth": 5, "opacity": 0.95, "strokeJoin": "round", "clip": true},
      "encoding": {"detail": {"field": "p", "type": "nominal"}}
    }
  ]
}
